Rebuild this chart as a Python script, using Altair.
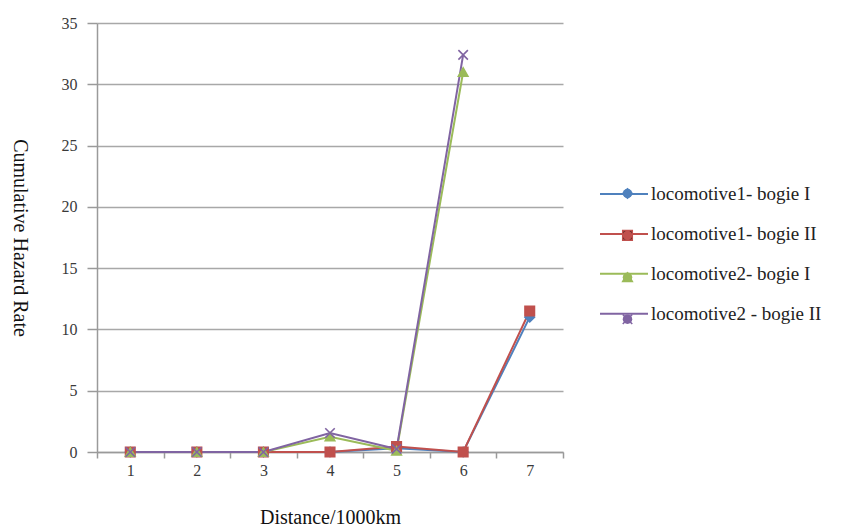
import altair as alt
import pandas as pd

# Distance in thousands of km
distance = [1, 2, 3, 4, 5, 6, 7]

series_names = [
    "locomotive1- bogie I",
    "locomotive1- bogie II",
    "locomotive2- bogie I",
    "locomotive2 - bogie II",
]

# Cumulative hazard rate per series (None = no observation)
loco1_bogie1 = [0, 0, 0, 0, 0.3, 0, 11.0]
loco1_bogie2 = [0, 0, 0, 0, 0.45, 0, 11.5]
loco2_bogie1 = [0, 0, 0, 1.25, 0.1, 31.0, None]
loco2_bogie2 = [0, 0, 0, 1.55, 0.25, 32.4, None]

colors = ["#4F81BD", "#C0504D", "#9BBB59", "#8064A2"]

rows = []
for name, vals in zip(series_names, [loco1_bogie1, loco1_bogie2, loco2_bogie1, loco2_bogie2]):
    for d, v in zip(distance, vals):
        if v is not None:
            rows.append({"Distance": d, "Rate": v, "Series": name, "order": series_names.index(name)})
df = pd.DataFrame(rows)

x_path = "M-1,-1L1,1M-1,1L1,-1"
marker_shapes = ["diamond", "square", "triangle-up", x_path]

serif = "Liberation Serif"

x_enc = alt.X(
    "Distance:O",
    scale=alt.Scale(paddingInner=0, paddingOuter=0),
    axis=alt.Axis(
        title="Distance/1000km",
        labelAngle=0,
        tickBand="extent",
        tickSize=6,
        labelPadding=4,
        titlePadding=29,
        grid=False,
    ),
)
y_enc = alt.Y(
    "Rate:Q",
    scale=alt.Scale(domain=[0, 35], nice=False),
    axis=alt.Axis(
        title="Cumulative Hazard Rate",
        values=[0, 5, 10, 15, 20, 25, 30, 35],
        titleAngle=90,
        titlePadding=52,
        tickSize=10,
        labelPadding=10,
    ),
)

LEG_X = 502
LABEL_SIZE = 19

# legend of the series lines (with labels)
line_legend = alt.Legend(
    title=None,
    orient="none",
    legendX=LEG_X,
    legendY=146,
    symbolType="stroke",
    symbolSize=2304,
    symbolStrokeWidth=2,
    labelFont=serif,
    labelFontSize=LABEL_SIZE,
    labelColor="#222222",
    labelLimit=300,
    labelOffset=2,
    rowPadding=4.9,
    padding=0,
    zindex=1,
)

# legend of the series markers, laid over the middle of each legend line
marker_legend = alt.Legend(
    title=None,
    orient="none",
    legendX=LEG_X + 19,
    legendY=161,
    symbolSize=90,
    symbolStrokeWidth=1.6,
    labelFont=serif,
    labelFontSize=LABEL_SIZE,
    labelOpacity=0,
    labelLimit=300,
    labelOffset=2,
    rowPadding=21.9,
    padding=0,
    zindex=2,
)

base = alt.Chart(df)

lines = base.mark_line(strokeWidth=2).encode(
    x=x_enc,
    y=y_enc,
    color=alt.Color("Series:N", scale=alt.Scale(domain=series_names, range=colors), legend=line_legend),
    detail="Series:N",
    order="Distance:O",
)

points = base.mark_point(filled=True, strokeWidth=1.6, opacity=1, size=90).encode(
    x=x_enc,
    y=y_enc,
    color=alt.Color("Series:N", scale=alt.Scale(domain=series_names, range=colors), legend=marker_legend),
    stroke=alt.Stroke("Series:N", scale=alt.Scale(domain=series_names, range=colors), legend=marker_legend),
    shape=alt.Shape("Series:N", scale=alt.Scale(domain=series_names, range=marker_shapes), legend=marker_legend),
    order="order:Q",
)

chart = (
    alt.layer(lines, points)
    .resolve_scale(color="independent")
    .properties(
        width=466,
        height=429,
        autosize=alt.AutoSizeParams(type="none"),
        padding={"left": 97, "top": 23, "right": 303, "bottom": 77},
        background="white",
    )
    .configure_view(stroke=None)
    .configure_axis(
        labelFont=serif,
        labelFontSize=16,
        labelColor="#3a3a3a",
        titleFont=serif,
        titleFontSize=20,
        titleFontWeight="normal",
        titleColor="#111111",
        domainColor="#9a9a9a",
        domainWidth=1.5,
        tickColor="#9a9a9a",
        tickWidth=1.5,
        gridColor="#a8a8a8",
        gridWidth=1.5,
    )
)

chart.save("out.html", embed_options={"renderer": "svg", "actions": False})
